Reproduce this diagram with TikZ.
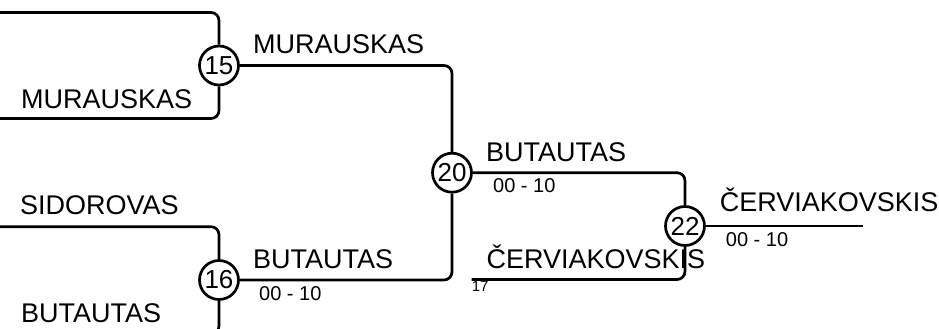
\documentclass[tikz,border=0pt]{standalone}
\usepackage{fontspec}
\setmainfont{Liberation Sans}
\begin{document}
\begin{tikzpicture}[x=1pt,y=-1pt,
  wire/.style={line width=2.7pt,rounded corners=8pt},
  matchnode/.style={circle,draw,line width=2.7pt,minimum size=39pt,inner sep=0pt,fill=white,font=\fontsize{26}{28}\selectfont},
  playerlbl/.style={anchor=base west,inner sep=0pt,font=\fontsize{27}{30}\selectfont},
  scorelbl/.style={anchor=base west,inner sep=0pt,font=\fontsize{20}{22}\selectfont},
  seedlbl/.style={anchor=base west,inner sep=0pt,font=\fontsize{15}{16}\selectfont}]
\useasboundingbox (0,0) rectangle (939,329);
\clip (0,0) rectangle (939,329);
% match circles
\node[matchnode] (c15) at (219,65.5) {15};
\node[matchnode] (c16) at (219,280) {16};
\node[matchnode] (c20) at (452,172.7) {20};
\node[matchnode] (c22) at (685,226) {22};
% free ends
\coordinate (in1) at (-10,12.5);
\coordinate (in2) at (-10,118.5);
\coordinate (in3) at (-10,226.7);
\coordinate (in4) at (-10,334);
\coordinate (in17) at (471.7,279.5);
\coordinate (fin) at (863,226);
% connectors
\draw[wire] (in1) -| (c15.north);
\draw[wire] (in2) -| (c15.south);
\draw[wire] (in3) -| (c16.north);
\draw[wire] (in4) -| (c16.south);
\draw[wire] (c15.east) -| (c20.north);
\draw[wire] (c16.east) -| (c20.south);
\draw[wire] (c20.east) -| (c22.north);
\draw[wire] (in17) -| (c22.south);
\draw[wire] (c22.east) -- (fin);
% labels
\node[playerlbl] (t1) at (253,54) {MURAUSKAS};
\node[playerlbl] (t2) at (21,108) {MURAUSKAS};
\node[playerlbl] (t3) at (20,214) {SIDOROVAS};
\node[playerlbl] (t4) at (21,322) {BUTAUTAS};
\node[playerlbl] (t5) at (253,268) {BUTAUTAS};
\node[scorelbl] (s5) at (259,300) {00 - 10};
\node[playerlbl] (t6) at (486,161.7) {BUTAUTAS};
\node[scorelbl] (s6) at (493,192.7) {00 - 10};
\node[playerlbl] (t7) at (486.3,268.3) {ČERVIAKOVSKIS};
\node[seedlbl] (s7) at (471.7,291.5) {17};
\node[playerlbl] (t8) at (719.7,211.7) {ČERVIAKOVSKIS};
\node[scorelbl] (s8) at (725.7,246.7) {00 - 10};
\end{tikzpicture}
\end{document}
